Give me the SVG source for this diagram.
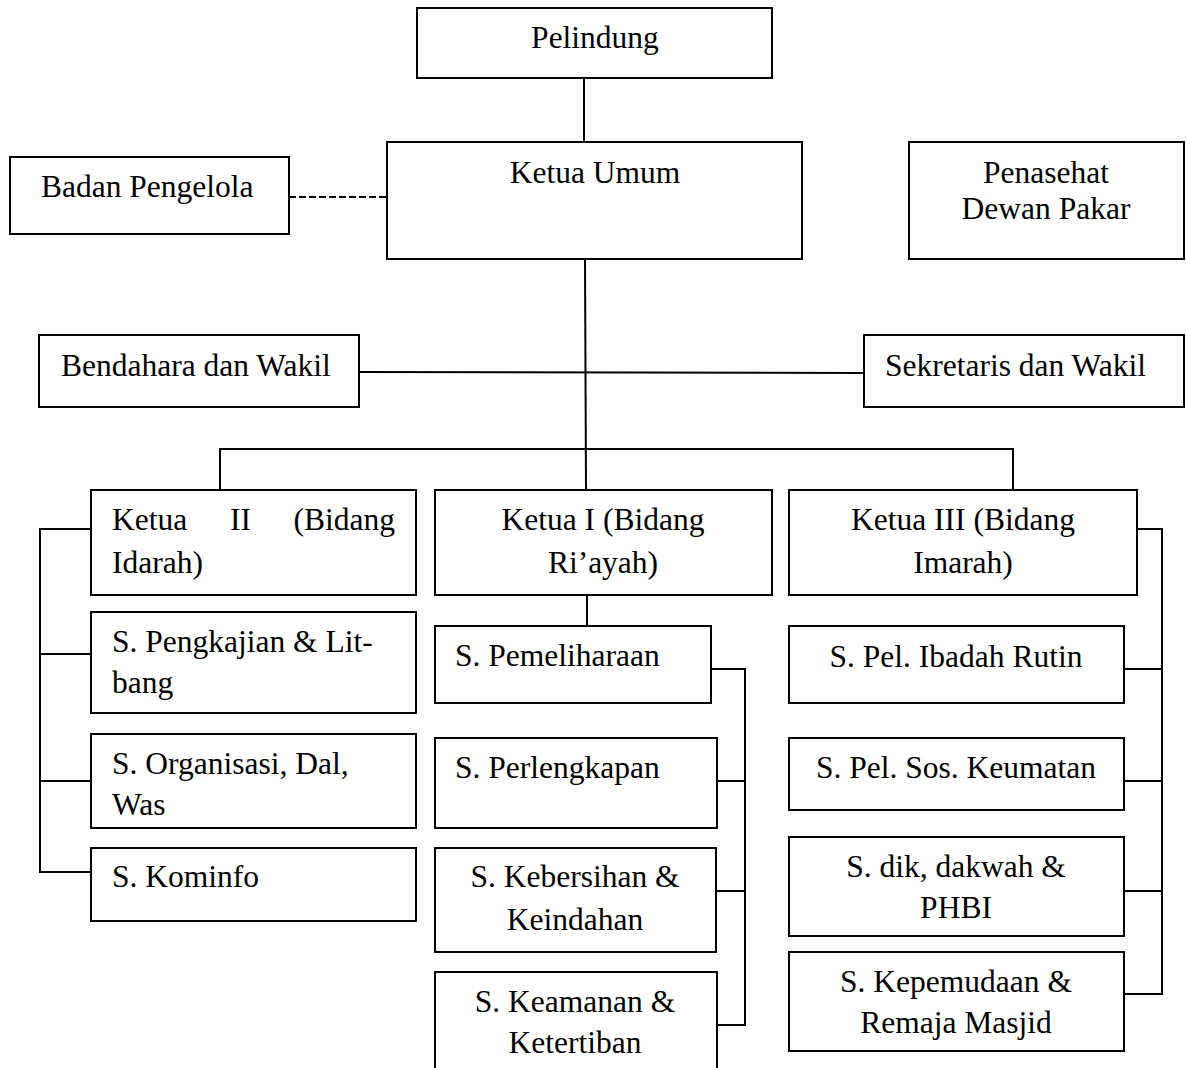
<svg xmlns="http://www.w3.org/2000/svg" width="1186" height="1068" viewBox="0 0 1186 1068">
<style>
rect.b{fill:#fff;stroke:#000;stroke-width:2}
text{font-family:"Liberation Serif","Times New Roman",serif;font-size:31.5px;fill:#000}
.c{text-anchor:middle}
.e{text-anchor:end}
#connectors line,#connectors polyline{stroke:#000;stroke-width:2;fill:none}
</style>
<rect width="1186" height="1068" fill="#fff"/>
<g id="connectors">
<line x1="584" y1="78" x2="584" y2="142"/>
<line x1="289" y1="197" x2="387" y2="197" stroke-dasharray="7,3"/>
<line x1="585" y1="259" x2="586" y2="490"/>
<line x1="359" y1="372" x2="864" y2="373"/>
<polyline points="220,490 220,449 1013,449 1013,490"/>
<line x1="587" y1="595" x2="587" y2="626"/>
<polyline points="91,529 40,529 40,872 91,872"/>
<line x1="40" y1="654" x2="91" y2="654"/>
<line x1="40" y1="781" x2="91" y2="781"/>
<polyline points="708,669 745,669 745,1025 712,1025"/>
<line x1="717" y1="781" x2="745" y2="781"/>
<line x1="716" y1="891" x2="745" y2="891"/>
<polyline points="1137,529 1162,529 1162,994 1124,994"/>
<line x1="1124" y1="669" x2="1162" y2="669"/>
<line x1="1124" y1="781" x2="1162" y2="781"/>
<line x1="1124" y1="891" x2="1162" y2="891"/>
</g>
<g id="pelindung"><rect class="b" x="417" y="8" width="355" height="70"/><text class="c" x="595" y="48">Pelindung</text></g>
<g id="ketua-umum"><rect class="b" x="387" y="142" width="415" height="117"/><text class="c" x="595" y="183">Ketua Umum</text></g>
<g id="badan-pengelola"><rect class="b" x="10" y="157" width="279" height="77"/><text x="41" y="197">Badan Pengelola</text></g>
<g id="penasehat"><rect class="b" x="909" y="142" width="275" height="117"/><text class="c" x="1046" y="183">Penasehat</text><text class="c" x="1046" y="219">Dewan Pakar</text></g>
<g id="bendahara"><rect class="b" x="39" y="335" width="320" height="72"/><text x="61" y="376">Bendahara dan Wakil</text></g>
<g id="sekretaris"><rect class="b" x="864" y="335" width="320" height="72"/><text x="885" y="376">Sekretaris dan Wakil</text></g>
<g id="ketua-2"><rect class="b" x="91" y="490" width="325" height="105"/><text x="112" y="530">Ketua</text><text x="230" y="530">II</text><text class="e" x="395" y="530">(Bidang</text><text x="112" y="573">Idarah)</text></g>
<g id="ketua-1"><rect class="b" x="435" y="490" width="337" height="105"/><text class="c" x="603" y="530">Ketua I (Bidang</text><text class="c" x="603" y="573">Ri’ayah)</text></g>
<g id="ketua-3"><rect class="b" x="789" y="490" width="348" height="105"/><text class="c" x="963" y="530">Ketua III (Bidang</text><text class="c" x="963" y="573">Imarah)</text></g>
<g id="s-pengkajian"><rect class="b" x="91" y="612" width="325" height="101"/><text x="112" y="652">S. Pengkajian &amp; Lit-</text><text x="112" y="693">bang</text></g>
<g id="s-organisasi"><rect class="b" x="91" y="734" width="325" height="94"/><text x="112" y="774">S. Organisasi, Dal,</text><text x="112" y="815">Was</text></g>
<g id="s-kominfo"><rect class="b" x="91" y="848" width="325" height="73"/><text x="112" y="887">S. Kominfo</text></g>
<g id="s-pemeliharaan"><rect class="b" x="435" y="626" width="276" height="77"/><text x="455" y="666">S. Pemeliharaan</text></g>
<g id="s-perlengkapan"><rect class="b" x="435" y="738" width="282" height="90"/><text x="455" y="778">S. Perlengkapan</text></g>
<g id="s-kebersihan"><rect class="b" x="435" y="848" width="281" height="104"/><text class="c" x="575" y="887">S. Kebersihan &amp;</text><text class="c" x="575" y="930">Keindahan</text></g>
<g id="s-keamanan"><rect class="b" x="435" y="972" width="282" height="110"/><text class="c" x="575" y="1012">S. Keamanan &amp;</text><text class="c" x="575" y="1053">Ketertiban</text></g>
<g id="s-ibadah"><rect class="b" x="789" y="626" width="335" height="77"/><text class="c" x="956" y="667">S. Pel. Ibadah Rutin</text></g>
<g id="s-sosial"><rect class="b" x="789" y="738" width="335" height="72"/><text class="c" x="956" y="778">S. Pel. Sos. Keumatan</text></g>
<g id="s-dik"><rect class="b" x="789" y="837" width="335" height="99"/><text class="c" x="956" y="877">S. dik, dakwah &amp;</text><text class="c" x="956" y="918">PHBI</text></g>
<g id="s-kepemudaan"><rect class="b" x="789" y="952" width="335" height="99"/><text class="c" x="956" y="992">S. Kepemudaan &amp;</text><text class="c" x="956" y="1033">Remaja Masjid</text></g>
</svg>
